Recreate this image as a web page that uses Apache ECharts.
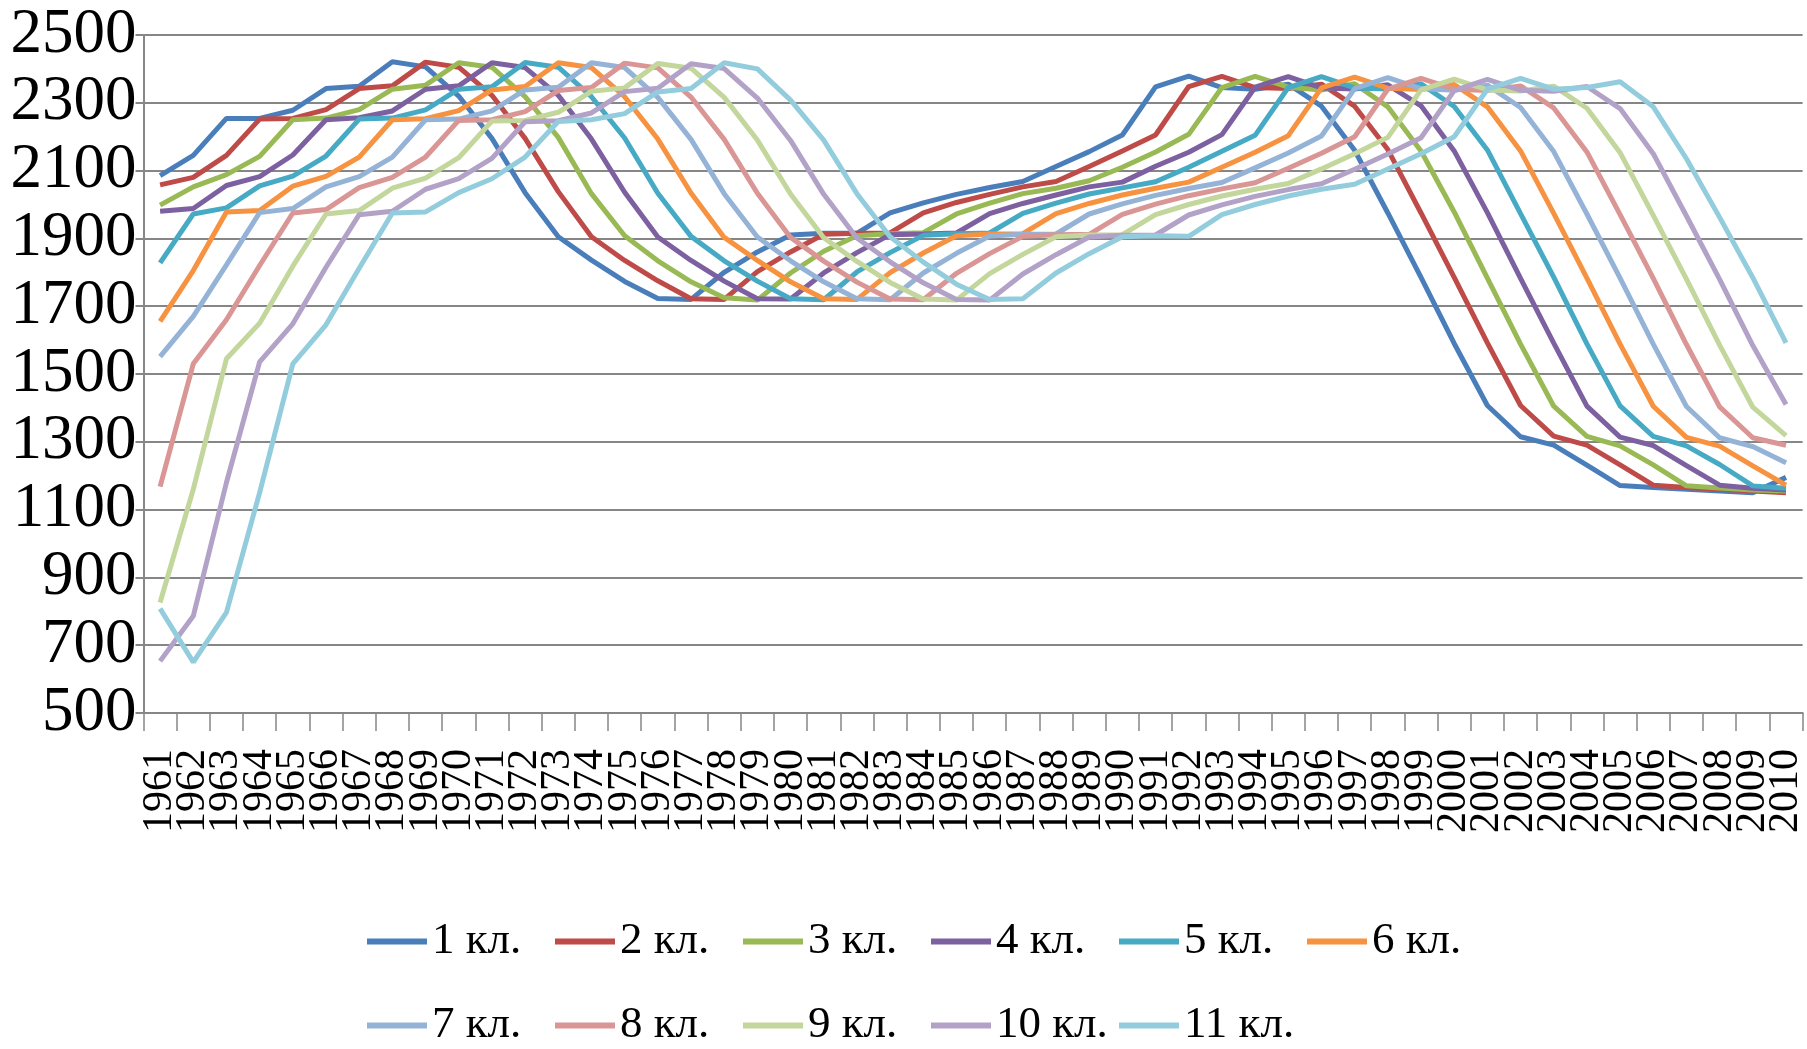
<!DOCTYPE html>
<html>
<head>
<meta charset="utf-8">
<title>Учащиеся по классам, 1961–2010</title>
<script src="https://cdn.jsdelivr.net/npm/echarts@6/dist/echarts.min.js"></script>
<style>
  html, body { margin: 0; padding: 0; background: #ffffff; }
  #chart { width: 1807px; height: 1049px; }
</style>
</head>
<body>
<div id="chart"></div>
<script>
// Years on the category axis
const years = ['1961','1962','1963','1964','1965','1966','1967','1968','1969','1970',
  '1971','1972','1973','1974','1975','1976','1977','1978','1979','1980',
  '1981','1982','1983','1984','1985','1986','1987','1988','1989','1990',
  '1991','1992','1993','1994','1995','1996','1997','1998','1999','2000',
  '2001','2002','2003','2004','2005','2006','2007','2008','2009','2010'];

// Series names (school grades)
const gradeNames = ['1 кл.','2 кл.','3 кл.','4 кл.','5 кл.','6 кл.','7 кл.','8 кл.','9 кл.','10 кл.','11 кл.'];

// Pupils per grade, one value per year
const grade1 = [2085,2145,2254,2254,2278,2342,2349,2421,2406,2320,2195,2035,1905,1836,1773,1723,1720,1800,1860,1910,1915,1915,1975,2005,2030,2050,2068,2112,2156,2205,2347,2379,2345,2340,2355,2290,2160,1975,1785,1590,1407,1315,1290,1231,1171,1165,1160,1155,1150,1195];
const grade2 = [2058,2080,2145,2252,2254,2280,2342,2350,2420,2405,2322,2195,2038,1905,1835,1775,1722,1720,1802,1860,1912,1915,1916,1975,2006,2030,2052,2068,2112,2158,2205,2348,2378,2345,2342,2355,2290,2162,1975,1785,1592,1407,1317,1290,1232,1172,1165,1160,1155,1150];
const grade3 = [1998,2052,2088,2142,2250,2255,2280,2340,2352,2418,2405,2318,2198,2032,1908,1834,1772,1725,1718,1798,1862,1908,1914,1917,1972,2004,2032,2048,2070,2110,2155,2207,2345,2378,2346,2338,2356,2288,2158,1978,1783,1588,1405,1316,1288,1232,1170,1164,1158,1155];
const grade4 = [1980,1988,2056,2082,2146,2250,2256,2276,2340,2350,2418,2404,2322,2193,2036,1904,1835,1774,1722,1721,1798,1858,1911,1913,1916,1973,2003,2028,2052,2066,2113,2154,2206,2346,2377,2344,2341,2353,2291,2158,1976,1782,1591,1405,1314,1289,1230,1172,1163,1158];
const grade5 = [1828,1972,1990,2055,2084,2143,2252,2255,2279,2340,2347,2419,2405,2318,2196,2033,1906,1834,1774,1722,1719,1801,1858,1909,1914,1916,1974,2004,2031,2049,2067,2110,2157,2204,2345,2377,2344,2341,2356,2289,2161,1973,1786,1589,1406,1316,1288,1233,1170,1163];
const grade6 = [1655,1805,1978,1982,2054,2083,2140,2250,2253,2277,2338,2348,2418,2404,2318,2193,2034,1903,1835,1772,1722,1720,1799,1857,1908,1913,1914,1973,2003,2028,2048,2066,2110,2154,2203,2344,2376,2343,2339,2354,2288,2158,1974,1783,1588,1405,1313,1287,1229,1172];
const grade7 = [1551,1670,1822,1976,1988,2052,2082,2140,2250,2252,2276,2338,2346,2418,2404,2316,2192,2032,1904,1834,1772,1722,1719,1798,1856,1907,1912,1913,1972,2002,2027,2047,2065,2108,2152,2202,2342,2374,2342,2337,2352,2286,2156,1972,1783,1588,1404,1312,1286,1238];
const grade8 = [1168,1530,1660,1820,1975,1985,2050,2080,2140,2248,2250,2274,2336,2345,2417,2403,2317,2192,2033,1903,1833,1771,1721,1719,1797,1855,1906,1911,1912,1971,2001,2026,2046,2064,2107,2151,2200,2340,2372,2340,2336,2350,2285,2155,1970,1782,1587,1403,1312,1290];
const grade9 = [826,1160,1545,1650,1818,1972,1982,2048,2078,2138,2246,2248,2272,2334,2344,2416,2402,2316,2190,2031,1902,1832,1770,1721,1718,1796,1853,1905,1910,1911,1970,2000,2025,2045,2062,2105,2150,2198,2338,2370,2338,2335,2349,2284,2153,1968,1780,1585,1402,1318];
const grade10 = [653,786,1180,1536,1648,1815,1970,1980,2045,2076,2136,2244,2247,2270,2333,2343,2415,2401,2314,2189,2030,1901,1831,1769,1720,1718,1795,1852,1904,1909,1910,1969,1999,2024,2044,2061,2104,2149,2197,2336,2369,2337,2334,2348,2283,2150,1966,1779,1584,1410];
const grade11 = [808,650,797,1150,1530,1645,1812,1975,1978,2035,2076,2140,2245,2250,2268,2332,2342,2418,2400,2308,2190,2032,1905,1830,1765,1720,1722,1798,1855,1905,1908,1906,1970,2000,2025,2045,2060,2105,2150,2200,2340,2372,2340,2345,2362,2288,2135,1962,1784,1592];

const gradeValues = [grade1, grade2, grade3, grade4, grade5, grade6, grade7, grade8, grade9, grade10, grade11];

// Office-style palette: accents for 1–6, lighter tints for 7–11
const palette = ['#4A7EBB','#BE4B48','#98B954','#7D60A0','#46AAC5','#F69240',
                 '#95B3D7','#D99694','#C3D69B','#B3A2C7','#93CDDD'];

const serif = '"Liberation Serif", "Times New Roman", serif';
const gridColor = '#868686';

const chart = echarts.init(document.getElementById('chart'), null, { renderer: 'canvas' });

const series = gradeNames.map((name, i) => ({
  name: name,
  type: 'line',
  data: gradeValues[i],
  showSymbol: false,
  symbol: 'none',
  lineStyle: { width: 5, color: palette[i] },
  itemStyle: { color: palette[i] },
  emphasis: { disabled: true },
  animation: false
}));

// Legend: six entries per row, in equal-width columns
const legendLeft = 362, legendColumn = 188;
const legendRows = [914, 998];
const legends = gradeNames.map((name, i) => ({
  data: [name],
  left: legendLeft + (i % 6) * legendColumn,
  top: legendRows[Math.floor(i / 6)],
  icon: 'rect',
  itemWidth: 60,
  itemHeight: 6,
  selectedMode: false,
  textStyle: { fontFamily: serif, fontSize: 45, color: '#000' }
}));

chart.setOption({
  backgroundColor: '#ffffff',
  color: palette,
  animation: false,
  grid: { left: 143.5, right: 3.5, top: 35, bottom: 336, containLabel: false },
  legend: legends,
  xAxis: {
    type: 'category',
    data: years,
    boundaryGap: true,
    axisLine: { show: true, lineStyle: { color: gridColor, width: 2 } },
    axisTick: { show: true, interval: 0, length: 18, lineStyle: { color: gridColor, width: 1.5 } },
    axisLabel: {
      interval: 0,
      rotate: 90,
      margin: 36,
      fontFamily: serif,
      fontSize: 42,
      color: '#000'
    },
    splitLine: { show: false }
  },
  yAxis: {
    type: 'value',
    min: 500,
    max: 2500,
    interval: 200,
    axisLine: { show: true, lineStyle: { color: gridColor, width: 2 } },
    axisTick: { show: true, length: 8, lineStyle: { color: gridColor, width: 2 } },
    axisLabel: {
      margin: 7,
      fontFamily: serif,
      fontSize: 63,
      color: '#000',
      formatter: v => String(v)
    },
    splitLine: { show: true, lineStyle: { color: gridColor, width: 2 } }
  },
  series: series
});
</script>
</body>
</html>
